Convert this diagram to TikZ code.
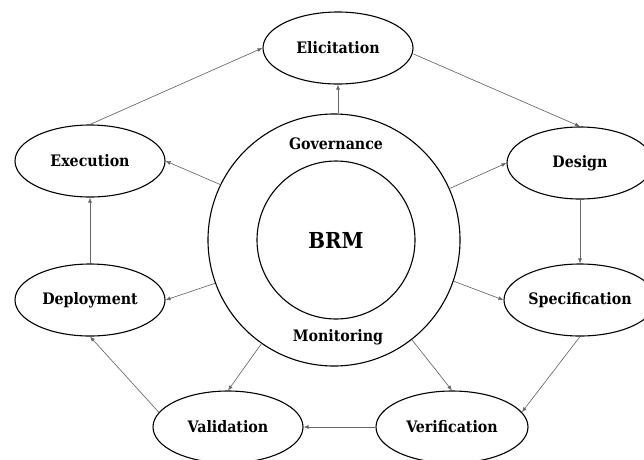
\documentclass[tikz,border=0pt]{standalone}
\usepackage{fontspec}
\setmainfont{DejaVu Serif Condensed}
\usetikzlibrary{shapes.geometric,arrows.meta}
\tikzset{
  stage/.style={draw=black, line width=1.1pt, ellipse, minimum width=150pt, minimum height=72pt, inner sep=0pt, font=\fontsize{15.8}{18}\selectfont\bfseries},
  link/.style={draw=black!60, line width=0.65pt, -{Latex[length=5pt,width=4pt]}},
  ring/.style={draw=black, line width=1.1pt, circle, inner sep=0pt},
  lbl/.style={font=\fontsize{15.8}{18}\selectfont\bfseries}
}
\begin{document}
\begin{tikzpicture}[x=1pt,y=-1pt]
\useasboundingbox (0,0) rectangle (644,459);
\clip (0,0) rectangle (644,459);
\node[ring, minimum size=252pt] (outer) at (334,240) {};
\node[ring, minimum size=158pt] (inner) at (336,240) {};
\node[font=\fontsize{22}{24}\selectfont\bfseries] (brm) at (336,240) {BRM};
\node[lbl] (gov) at (336,144) {Governance};
\node[lbl] (mon) at (338,337) {Monitoring};
\node[stage] (elic) at (338,48) {Elicitation};
\node[stage] (exec) at (90,161) {Execution};
\node[stage, minimum width=146pt] (design) at (580,163) {Design};
\node[stage, minimum width=152pt] (spec) at (580,300) {Specification};
\node[stage] (deploy) at (90,300) {Deployment};
\node[stage] (valid) at (228,427) {Validation};
\node[stage, minimum width=152pt] (verif) at (452,427) {Verification};
\draw[link] (elic.south |- outer.north) -- (elic.south);
\draw[link] (elic.east) ++(0,6) coordinate (e1) -- (design.north);
\draw[link] (exec.north) -- (elic.west);
\draw[link] (outer.154) -- (exec.east);
\draw[link] (outer.200) -- (deploy.east);
\draw[link] (deploy.north) -- (exec.south);
\draw[link] (valid.168) -- (deploy.south);
\draw[link] (outer.235) -- (valid.north);
\draw[link] (outer.-52) -- (verif.north);
\draw[link] (verif.west) -- (valid.east);
\draw[link] (spec.south) -- (verif.12);
\draw[link] (outer.24) -- (design.west);
\draw[link] (outer.-19) -- (spec.west);
\draw[link] (design.south) -- (spec.north);
\end{tikzpicture}
\end{document}
